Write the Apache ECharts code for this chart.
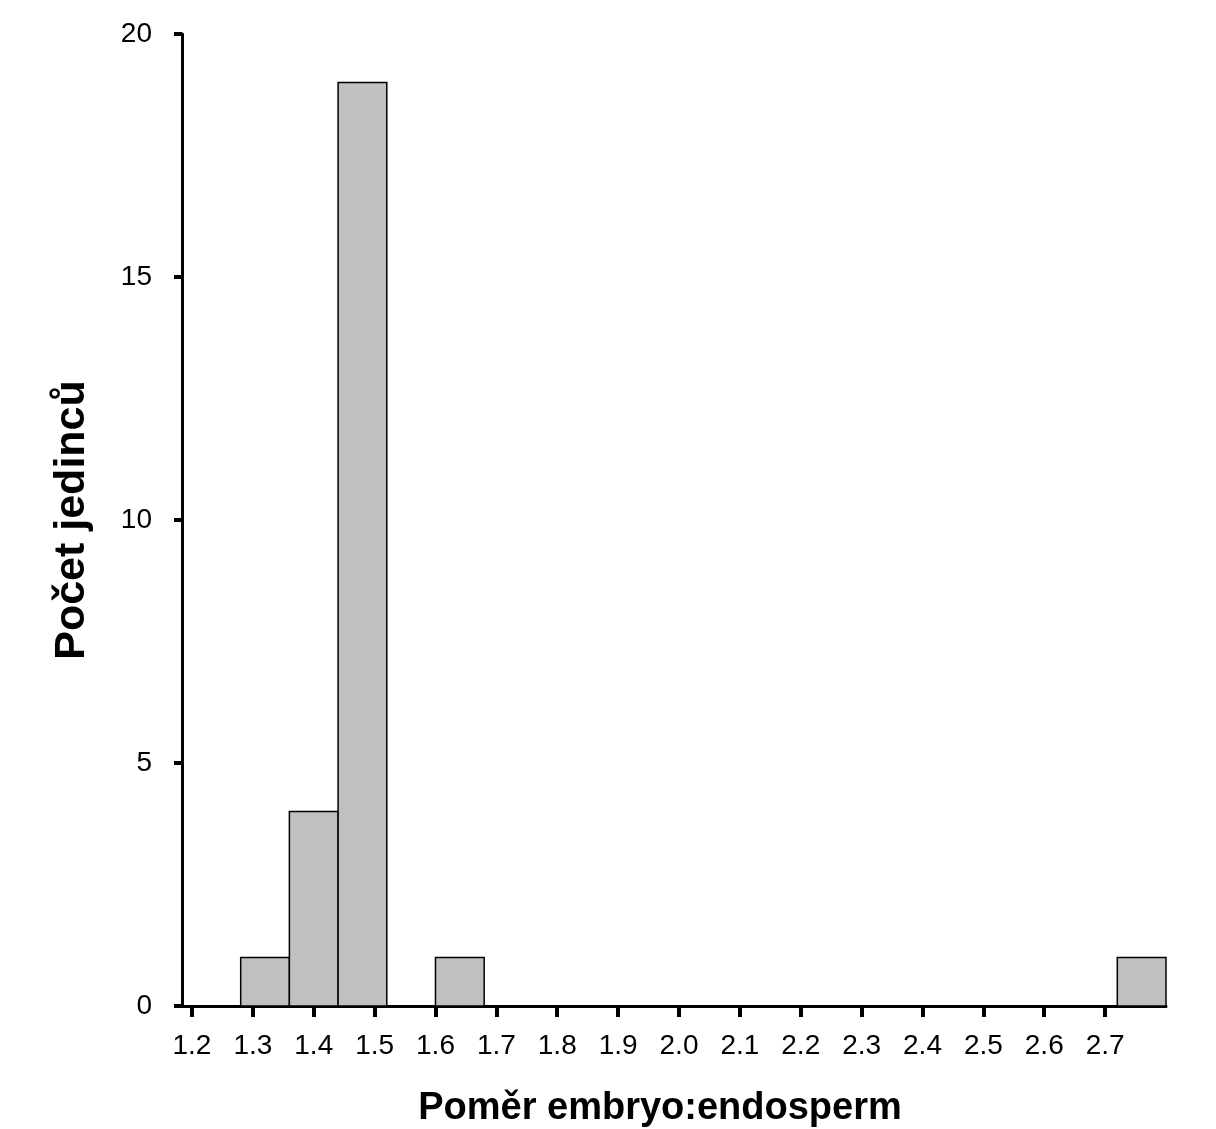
<!DOCTYPE html>
<html>
<head>
<meta charset="utf-8">
<script src="https://cdn.jsdelivr.net/npm/echarts@6/dist/echarts.min.js"></script>
<style>
  html, body { margin: 0; padding: 0; background: #fff; }
  #chart { width: 1216px; height: 1129px; }
</style>
</head>
<body>
<div id="chart"></div>
<script>
// histogram bins (left edge), bin width, counts
const binStarts = [1.28, 1.36, 1.44, 1.60, 2.72]
const binWidth = 0.08
const counts = [1, 4, 19, 1, 1]
const xTicks = [1.2, 1.3, 1.4, 1.5, 1.6, 1.7, 1.8, 1.9, 2.0, 2.1, 2.2, 2.3, 2.4, 2.5, 2.6, 2.7]

const chart = echarts.init(document.getElementById('chart'))
const font = 'Arial, "Liberation Sans", sans-serif'

chart.setOption({
  animation: false,
  backgroundColor: '#fff',
  grid: { left: 182, right: 50, top: 34, bottom: 123, outerBoundsMode: 'none' },
  xAxis: {
    type: 'value',
    min: 1.1836,
    max: 2.8,
    name: 'Poměr embryo:endosperm',
    nameLocation: 'middle',
    nameGap: 84,
    nameTextStyle: { fontFamily: font, fontSize: 38, fontWeight: 'bold', color: '#000', padding: [0, 28, 0, 0] },
    splitLine: { show: false },
    axisLine: { onZero: false, lineStyle: { color: '#000', width: 3 } },
    axisTick: { show: true, length: 11, lineStyle: { color: '#000', width: 4 }, customValues: xTicks },
    axisLabel: {
      customValues: xTicks,
      margin: 26,
      fontFamily: font, fontSize: 28, color: '#000',
      formatter: v => v.toFixed(1)
    }
  },
  yAxis: {
    type: 'value',
    min: 0,
    max: 20,
    interval: 5,
    name: 'Počet jedinců',
    nameLocation: 'middle',
    nameGap: 88,
    nameTextStyle: { fontFamily: font, fontSize: 43, fontWeight: 'bold', color: '#000' },
    splitLine: { show: false },
    axisLine: { lineStyle: { color: '#000', width: 3 } },
    axisTick: { length: 8, lineStyle: { color: '#000', width: 4 } },
    axisLabel: { margin: 30, fontFamily: font, fontSize: 28, color: '#000' }
  },
  series: [{
    type: 'custom',
    data: binStarts.map((s, i) => [s, s + binWidth, counts[i]]),
    encode: { x: [0, 1], y: 2 },
    renderItem: (params, api) => {
      const p0 = api.coord([api.value(0), api.value(2)])
      const p1 = api.coord([api.value(1), 0])
      return {
        type: 'rect',
        shape: { x: p0[0], y: p0[1], width: p1[0] - p0[0], height: p1[1] - p0[1] },
        style: { fill: '#c0c0c0', stroke: '#000', lineWidth: 1.5 }
      }
    },
    z: 1
  }]
})
</script>
</body>
</html>
